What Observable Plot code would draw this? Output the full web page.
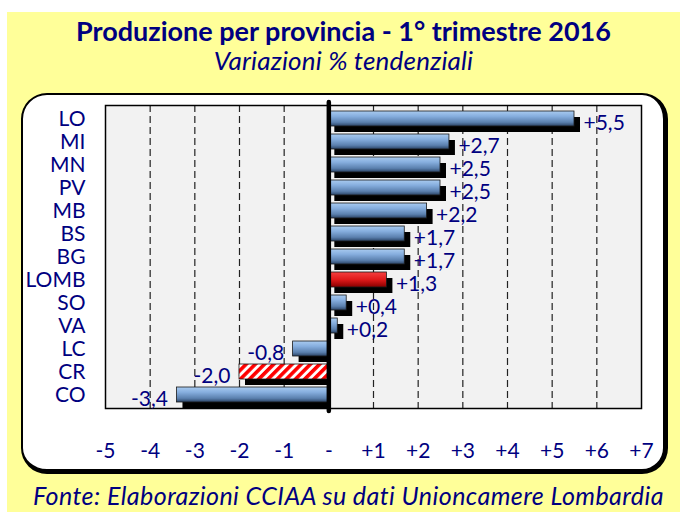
<!DOCTYPE html>
<html><head><meta charset="utf-8">
<script src="https://cdn.jsdelivr.net/npm/d3@7"></script>
<script src="https://cdn.jsdelivr.net/npm/@observablehq/plot@0.6"></script>
<style>
html,body{margin:0;padding:0;width:680px;height:512px;overflow:hidden;background:#fff;font-family:Lato,"Open Sans",sans-serif;}
#bg{position:absolute;left:7px;top:12px;width:673px;height:500px;background:#FFFF99;}
.t{position:absolute;left:7px;width:673px;text-align:center;color:#000080;white-space:nowrap;}
#title{top:17px;font-size:27px;line-height:28px;font-weight:bold;}
#subtitle{top:47px;font-size:26px;line-height:27px;font-style:italic;letter-spacing:0.2px;}
#panel{position:absolute;left:21px;top:93px;width:647px;height:381px;box-sizing:border-box;background:#fff;border:2px solid #000;border-right-width:5px;border-bottom-width:5px;border-radius:26px;}
#chart{position:absolute;left:0;top:93px;}
#footer{position:absolute;left:33px;top:482px;font-size:25px;line-height:26px;font-style:italic;color:#000080;white-space:nowrap;letter-spacing:0.45px;}
</style></head><body>
<div id="bg"></div>
<div class="t" id="title">Produzione per provincia - 1° trimestre 2016</div>
<div class="t" id="subtitle">Variazioni % tendenziali</div>
<div id="panel"></div>
<div id="chart"></div>
<div id="footer">Fonte: Elaborazioni CCIAA su dati Unioncamere Lombardia</div>
<script>
const provinces = ["LO","MI","MN","PV","MB","BS","BG","LOMB","SO","VA","LC","CR","CO"];
const values = [5.5, 2.7, 2.5, 2.5, 2.2, 1.7, 1.7, 1.3, 0.4, 0.2, -0.8, -2.0, -3.4];
const xTicks = [-5,-4,-3,-2,-1,0,1,2,3,4,5,6,7];
const gridTicks = [-4,-3,-2,-1,1,2,3,4,5,6];
const regionName = "LOMB";
const homeName = "CR";

const data = provinces.map((p, i) => ({prov: p, value: values[i]}));
const pos = data.filter(d => d.value >= 0);
const neg = data.filter(d => d.value < 0);
const blueBars = data.filter(d => d.prov !== regionName && d.prov !== homeName);
const redBars = data.filter(d => d.prov === regionName);
const hatchBars = data.filter(d => d.prov === homeName);
const fmt = v => (v > 0 ? "+" : "") + v.toFixed(1).replace(".", ",");
const navy = "#000080";

const chart = Plot.plot({
  width: 680, height: 380,
  marginLeft: 105, marginRight: 39, marginTop: 12, marginBottom: 65,
  x: {domain: [-5, 7]},
  y: {domain: provinces, paddingInner: 0.36, paddingOuter: 0.18},
  style: {fontFamily: "Lato, 'Open Sans', sans-serif", fontSize: "20px", color: navy, background: "transparent", overflow: "visible"},
  marks: [
    Plot.frame({fill: "#F2F2F2", stroke: "none"}),
    Plot.ruleX(gridTicks, {stroke: "#222", strokeWidth: 1.2, strokeDasharray: "7,4"}),
    Plot.barX(pos, {x1: d => 0, x2: "value", y: "prov", fill: "black", dx: 6, dy: 6}),
    Plot.barX(neg, {x1: "value", x2: d => 0, y: "prov", fill: "black", dx: 6, dy: 6, insetRight: 6}),
    Plot.barX(blueBars, {x1: d => 0, x2: "value", y: "prov", fill: "url(#gBlue)", stroke: "#1a1a1a", strokeWidth: 0.8}),
    Plot.barX(redBars, {x1: d => 0, x2: "value", y: "prov", fill: "url(#gRed)", stroke: "#1a1a1a", strokeWidth: 0.8}),
    Plot.barX(hatchBars, {x1: d => 0, x2: "value", y: "prov", fill: "url(#hatch)", stroke: "#1a1a1a", strokeWidth: 0.8}),
    Plot.frame({stroke: "black", strokeWidth: 1.5}),
    Plot.ruleX([0], {stroke: "black", strokeWidth: 4.5, insetTop: -3, insetBottom: -3, strokeLinecap: "round"}),
    Plot.text(pos, {x: "value", y: "prov", text: d => fmt(d.value), textAnchor: "start", dx: 9, dy: 4, fill: navy, fontSize: 21}),
    Plot.text(neg, {x: "value", y: "prov", text: d => fmt(d.value), textAnchor: "end", dx: -9, dy: 4, fill: navy, fontSize: 21}),
    Plot.axisX({ticks: xTicks, tickFormat: d => d === 0 ? "-" : (d > 0 ? "+" : "") + d, tickSize: 0, tickPadding: 35, fontSize: 21, fill: navy, label: null}),
    Plot.axisY({tickSize: 0, tickPadding: 20, fontSize: 21, fill: navy, label: null})
  ]
});

const ns = "http://www.w3.org/2000/svg";
const defs = document.createElementNS(ns, "defs");
defs.innerHTML = `
  <linearGradient id="gBlue" x1="0" y1="0" x2="0" y2="1">
    <stop offset="0" stop-color="#A9CBF0"/>
    <stop offset="0.35" stop-color="#86AEDE"/>
    <stop offset="0.75" stop-color="#5B80AE"/>
    <stop offset="1" stop-color="#2B4466"/>
  </linearGradient>
  <linearGradient id="gRed" x1="0" y1="0" x2="0" y2="1">
    <stop offset="0" stop-color="#F44040"/>
    <stop offset="0.5" stop-color="#E01A1A"/>
    <stop offset="1" stop-color="#8A0000"/>
  </linearGradient>
  <pattern id="hatch" patternUnits="userSpaceOnUse" width="6.5" height="6.5" patternTransform="rotate(45)">
    <rect width="6.5" height="6.5" fill="#ffffff"/>
    <rect width="3.6" height="6.5" fill="#FF0000"/>
  </pattern>`;
chart.insertBefore(defs, chart.firstChild);
document.getElementById("chart").appendChild(chart);
</script>
</body></html>
